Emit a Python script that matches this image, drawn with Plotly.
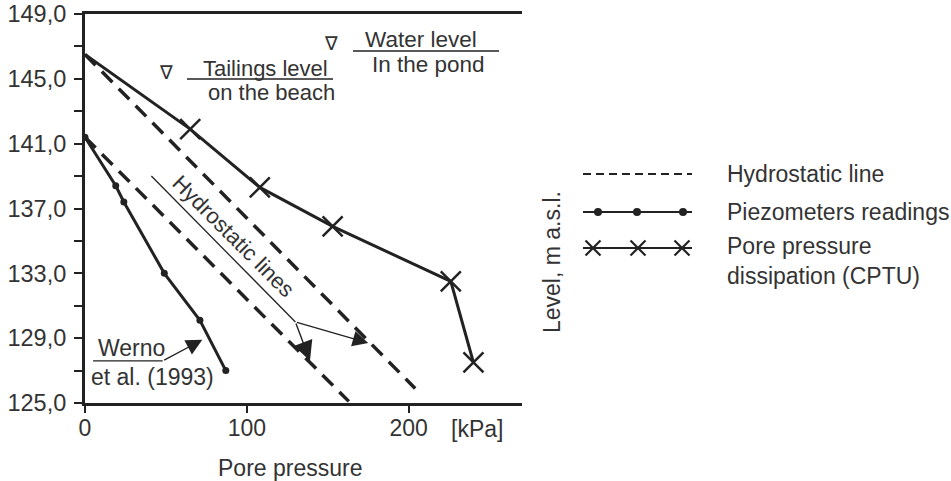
import plotly.graph_objects as go

W, H = 951, 481
# plot-area edges in page pixels
PL, PR, PT, PB = 85, 522, 14, 403

INK = "#222222"
TXT = "#333333"
FONT = "Liberation Sans, Arial, sans-serif"

# Pore pressure dissipation tests (CPTU): pressure [kPa] vs level [m a.s.l.]
cptu_pressure = [0, 65, 108, 153, 226, 240]
cptu_level = [146.5, 141.9, 138.3, 135.9, 132.5, 127.5]

# Piezometer readings (Werno et al., 1993)
piezo_pressure = [0, 19, 24, 49, 71, 87]
piezo_level = [141.4, 138.4, 137.4, 133.0, 130.1, 127.0]

# Hydrostatic lines from the two starting levels
hydro_upper_pressure = [0, 204]
hydro_upper_level = [146.5, 125.9]
hydro_lower_pressure = [0, 163]
hydro_lower_level = [141.4, 125.1]

y_tick_values = list(range(125, 150, 2))
y_tick_labels = [f"{v},0" if (v - 125) % 4 == 0 else "" for v in y_tick_values]
x_tick_values = [0, 100, 200]
x_tick_labels = ["0", "100", "200"]

fig = go.Figure()

dash_main = "15px,9px"
for px, lv in [(hydro_upper_pressure, hydro_upper_level),
               (hydro_lower_pressure, hydro_lower_level)]:
    fig.add_trace(go.Scatter(x=px, y=lv, mode="lines",
                             line=dict(color=INK, width=3.5, dash=dash_main),
                             showlegend=False, hoverinfo="skip"))

# CPTU line; the first point (surface level) carries no marker
fig.add_trace(go.Scatter(x=cptu_pressure, y=cptu_level, mode="lines",
                         line=dict(color=INK, width=3), showlegend=False))
fig.add_trace(go.Scatter(x=cptu_pressure[1:], y=cptu_level[1:], mode="markers",
                         marker=dict(symbol="x-thin", size=20,
                                     line=dict(color=INK, width=2.5)),
                         showlegend=False))

fig.add_trace(go.Scatter(x=piezo_pressure, y=piezo_level, mode="lines+markers",
                         line=dict(color=INK, width=3),
                         marker=dict(symbol="circle", size=7, color=INK),
                         showlegend=False))

# ---- legend drawn on a pixel-space overlay axis ----
leg_x = [583, 692]
leg_dot_x = [598, 637, 683]
leg_cross_x = [593, 638, 682]
leg_y = [174, 212, 248]

fig.add_trace(go.Scatter(x=leg_x, y=[leg_y[0]] * 2, mode="lines",
                         line=dict(color=INK, width=2, dash="8px,5px"),
                         xaxis="x2", yaxis="y2", showlegend=False))
fig.add_trace(go.Scatter(x=leg_x, y=[leg_y[1]] * 2, mode="lines",
                         line=dict(color=INK, width=2),
                         xaxis="x2", yaxis="y2", showlegend=False))
fig.add_trace(go.Scatter(x=leg_dot_x, y=[leg_y[1]] * 3, mode="markers",
                         marker=dict(symbol="circle", size=8, color=INK),
                         xaxis="x2", yaxis="y2", showlegend=False))
fig.add_trace(go.Scatter(x=leg_x, y=[leg_y[2]] * 2, mode="lines",
                         line=dict(color=INK, width=2),
                         xaxis="x2", yaxis="y2", showlegend=False))
fig.add_trace(go.Scatter(x=leg_cross_x, y=[leg_y[2]] * 3, mode="markers",
                         marker=dict(symbol="x-thin", size=15,
                                     line=dict(color=INK, width=2.2)),
                         xaxis="x2", yaxis="y2", showlegend=False))

annotations = []


def label(text, x, y, size=23, xanchor="center", ref="pix", angle=0, family=FONT):
    annotations.append(dict(
        text=text, x=x, y=y, align="left",
        xref="x2" if ref == "pix" else "x", yref="y2" if ref == "pix" else "y",
        xanchor=xanchor, yanchor="middle", showarrow=False, textangle=angle,
        font=dict(family=family, size=size, color=TXT)))


def arrow(x, y, ax, ay, size, width=1.4):
    annotations.append(dict(
        text="", x=x, y=y, ax=ax, ay=ay, xref="x", yref="y", axref="x", ayref="y",
        showarrow=True, arrowhead=2, arrowsize=size, arrowwidth=width,
        arrowcolor=INK, standoff=0, startstandoff=0))


# level markers and their captions
label("∇", 166, 72, size=19, family="DejaVu Sans")
label("∇", 331, 43, size=19, family="DejaVu Sans")
label("Tailings level", 265, 68, size=22)
label("on the beach", 271, 92, size=22)
label("Water level", 421, 39, size=22.5)
label("In the pond", 428, 64, size=22.5)

# axis captions
label("Pore pressure", 290, 468)
label("[kPa]", 477, 429)
label("Level, m a.s.l.", 552, 262, angle=-90)

# legend captions
label("Hydrostatic line", 725, leg_y[0], xanchor="left")
label("Piezometers readings", 725, leg_y[1], xanchor="left")
label("Pore pressure<br>dissipation (CPTU)", 725, 261, xanchor="left")

# in-plot notes
label("Hydrostatic lines", 92, 135.3, ref="data", angle=45, size=22)
label("Werno", 28.5, 128.4, ref="data")
label("et al. (1993)", 42, 126.6, ref="data")

arrow(139, 127.6, 130, 130.0, size=2.8)
arrow(175, 128.7, 130, 130.0, size=2.4, width=1.3)
arrow(72.5, 128.9, 48, 127.6, size=2.3, width=1.4)

shapes = [
    # caption underlines (page pixels)
    dict(type="line", xref="x2", yref="y2", x0=187, x1=333, y0=79, y1=79,
         line=dict(color=INK, width=1.6)),
    dict(type="line", xref="x2", yref="y2", x0=353, x1=499, y0=51, y1=51,
         line=dict(color=INK, width=1.6)),
    # leader under the rotated note
    dict(type="line", xref="x", yref="y", x0=41, x1=130, y0=139.0, y1=130.0,
         line=dict(color=INK, width=1.3)),
    # underline of the Werno note
    dict(type="line", xref="x", yref="y", x0=5, x1=48, y0=127.6, y1=127.6,
         line=dict(color=INK, width=1.4)),
]

ydom = [(H - PB) / H, (H - PT) / H]
fig.update_layout(
    width=W, height=H,
    margin=dict(l=0, r=0, t=0, b=0, autoexpand=False),
    paper_bgcolor="white", plot_bgcolor="rgba(0,0,0,0)",
    showlegend=False,
    xaxis=dict(domain=[PL / W, PR / W], range=[0, 270], automargin=False,
               tickvals=x_tick_values, ticktext=x_tick_labels,
               ticks="outside", ticklen=7, tickwidth=2, tickcolor=INK,
               showline=True, linewidth=3, linecolor=INK, mirror=True,
               showgrid=False, zeroline=False, ticklabelstandoff=-5,
               tickfont=dict(family=FONT, size=23, color=TXT)),
    yaxis=dict(domain=ydom, range=[125, 149], anchor="x", automargin=False,
               tickvals=y_tick_values, ticktext=y_tick_labels,
               ticks="outside", ticklen=8, tickwidth=2, tickcolor=INK,
               showline=True, linewidth=3, linecolor=INK,
               showgrid=False, zeroline=False, ticklabelstandoff=3,
               tickfont=dict(family=FONT, size=23.5, color=TXT)),
    yaxis3=dict(overlaying="y", side="right", anchor="x", range=[125, 149],
                automargin=False,
                tickvals=y_tick_values, showticklabels=False,
                ticks="inside", ticklen=9, tickwidth=2, tickcolor=INK,
                showline=True, linewidth=3, linecolor=INK,
                showgrid=False, zeroline=False),
    xaxis2=dict(domain=[0, 1], range=[0, W], visible=False, anchor="y2",
                automargin=False),
    yaxis2=dict(domain=[0, 1], range=[H, 0], visible=False, anchor="x2",
                automargin=False),
    annotations=annotations,
    shapes=shapes,
)

fig.write_html("out.html")
